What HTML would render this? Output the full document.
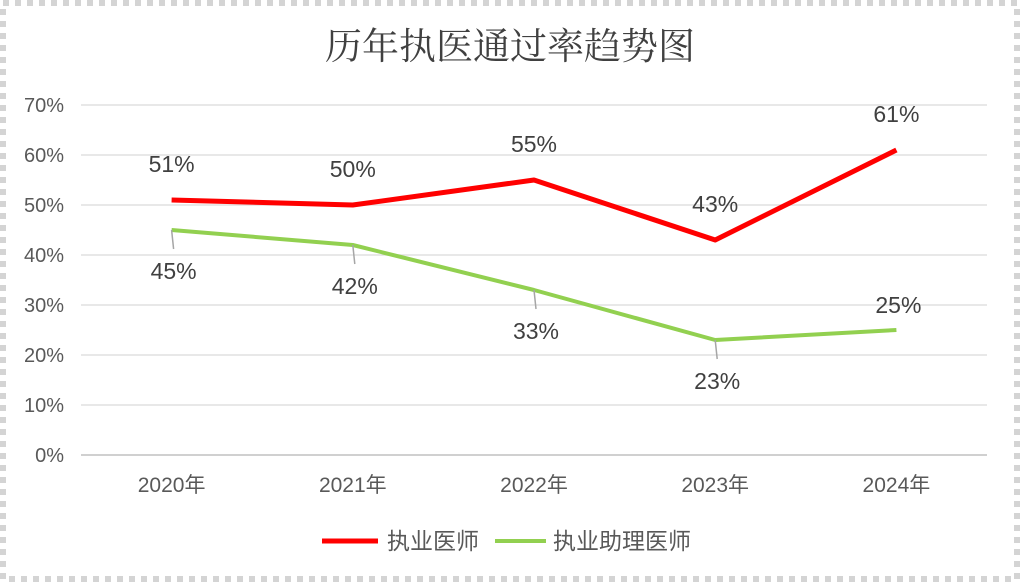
<!DOCTYPE html>
<html><head><meta charset="utf-8"><style>
html,body{margin:0;padding:0;background:#fff}
svg{display:block}
text{font-family:"Liberation Sans","Noto Sans CJK SC",sans-serif}
</style></head><body>
<svg id="c" width="1020" height="582" xmlns="http://www.w3.org/2000/svg">
<rect x="3" y="3" width="1014" height="576" fill="#fff" stroke="#d4d4d4" stroke-width="6" stroke-dasharray="6 6"/>
<text x="510" y="59" text-anchor="middle" font-size="37" fill="#404040" style="font-family:'Noto Serif CJK SC',serif">历年执医通过率趋势图</text>
<g id="grid"></g><g id="series"></g><g id="labels"></g>
<g>
<line x1="322" y1="541" x2="378" y2="541" stroke="#ff0000" stroke-width="5"/>
<text x="387" y="549" font-size="23" fill="#595959">执业医师</text>
<line x1="495" y1="541" x2="546" y2="541" stroke="#92d050" stroke-width="4"/>
<text x="553" y="549" font-size="23" fill="#595959">执业助理医师</text>
</g>
</svg>
<script>
const categories=["2020年","2021年","2022年","2023年","2024年"];
const doctorValues=[51,50,55,43,61];
const assistantValues=[45,42,33,23,25];
const yTicks=[0,10,20,30,40,50,60,70];
const NS="http://www.w3.org/2000/svg";
const x0=81,x1=987,yBase=455,yTop=105,yMax=70;
const xs=i=>x0+(x1-x0)/categories.length*(i+0.5);
const ys=v=>yBase-(yBase-yTop)*v/yMax;
function mk(tag,attrs,parent){const e=document.createElementNS(NS,tag);for(const k in attrs)e.setAttribute(k,attrs[k]);parent.appendChild(e);return e;}
const grid=document.getElementById('grid'),ser=document.getElementById('series'),lab=document.getElementById('labels');
yTicks.forEach(t=>{
 const l=mk('line',{x1:x0,x2:x1,y1:ys(t),y2:ys(t),stroke:t===0?'#d0d0d0':'#e0e0e0','stroke-width':t===0?2:1.5},grid);
 
 
 const tx=mk('text',{x:64,y:ys(t)+7,'text-anchor':'end','font-size':20,fill:'#595959'},grid);
 tx.textContent=t+'%';
 
 
});
categories.forEach((c,i)=>{
 const tx=mk('text',{x:xs(i),y:492,'text-anchor':'middle','font-size':21,fill:'#595959'},grid);
 tx.textContent=c;
 
 
});
function line(vals,color,w,name){
 const p=mk('polyline',{points:vals.map((v,i)=>xs(i)+','+ys(v)).join(' '),fill:'none',stroke:color,'stroke-width':w,'stroke-linejoin':'round'},ser);
 
 
}
line(assistantValues,'#92d050',4,'assistant-line');
line(doctorValues,'#ff0000',5,'doctor-line');
doctorValues.forEach((v,i)=>{
 const tx=mk('text',{x:xs(i),y:ys(v)-28,'text-anchor':'middle','font-size':23,fill:'#404040'},lab);
 tx.textContent=v+'%';
 
 
});
assistantValues.forEach((v,i)=>{
 let ty=ys(v)+49;
 if(i===4){ty=ys(v)-17;}
 else{
  const l=mk('line',{x1:xs(i),y1:ys(v),x2:xs(i)+2,y2:ys(v)+19,stroke:'#a6a6a6','stroke-width':1.5},lab);
  
  
 }
 const tx=mk('text',{x:xs(i)+2,y:ty,'text-anchor':'middle','font-size':23,fill:'#404040'},lab);
 tx.textContent=v+'%';
 
 
});
</script>
</body></html>
